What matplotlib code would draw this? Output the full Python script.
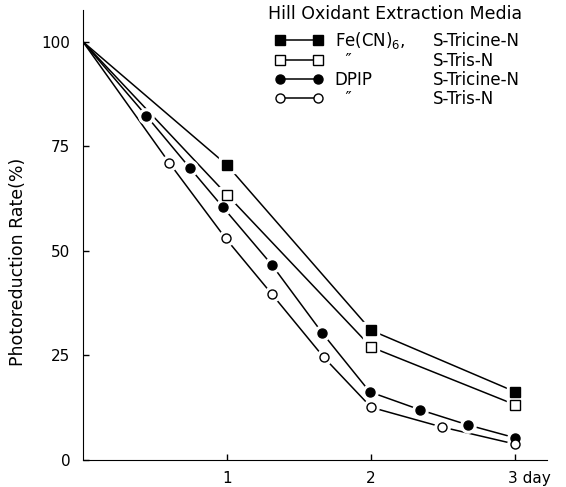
import numpy as np
import matplotlib.pyplot as plt
import matplotlib.transforms as mtransforms
from matplotlib.lines import Line2D

plt.rcParams.update({'font.family':'DejaVu Sans','font.size':11})

# values (day, % of initial rate)
fe_tricine_day=[0,1,2,3]
fe_tricine=[100,70.5,31,16.3]
fe_tris_day=[0,1,2,3]
fe_tris=[100,63.4,27,13.2]
dpip_tricine_day=[0,0.44,0.74,0.97,1.31,1.66,1.99,2.34,2.67,3.0]
dpip_tricine=[100,82.3,69.9,60.5,46.7,30.4,16.3,12,8.4,5.3]
dpip_tris_day=[0,0.6,0.99,1.31,1.67,2.0,2.49,3.0]
dpip_tris=[100,71,53,39.7,24.6,12.6,7.9,3.8]

oxidants=['Fe(CN)$_6$,','  \u2033','DPIP','  \u2033']
media=['S-Tricine-N','S-Tris-N','S-Tricine-N','S-Tris-N']
xticks=[1,2,3]
xticklabels=['1','2','3 day']
yticks=[0,25,50,75,100]

fig=plt.figure(figsize=(5.66,4.87),dpi=100)
ax=fig.add_axes([0.1466,0.0554,0.8198,0.9241])

series=[(fe_tricine_day,fe_tricine,'s','k'),
        (fe_tris_day,fe_tris,'s','w'),
        (dpip_tricine_day,dpip_tricine,'o','k'),
        (dpip_tris_day,dpip_tris,'o','w')]

handles=[]
for d,v,m,fc in series:
    ax.plot(d,v,color='k',lw=1.1,zorder=2)
    # white halo so the line stops short of each marker
    ax.plot(d,v,ls='none',marker=m,ms=11,mfc='w',mec='w',markevery=slice(1,None),zorder=3)
    ax.plot(d,v,ls='none',marker=m,ms=6.5,mfc=fc,mec='k',mew=1,markevery=slice(1,None),zorder=4)
    handles.append(Line2D([],[],color='k',lw=1.1,marker=m,ms=6.5,mfc=fc,mec='k'))

ax.set_xlim(0,3.22)
ax.set_ylim(0,107.6)
ax.spines['top'].set_visible(False)
ax.spines['right'].set_visible(False)
ax.set_xticks(xticks)
ax.set_xticklabels(xticklabels)
ax.set_yticks(yticks)
ax.tick_params(direction='in',length=4,width=1)
ax.tick_params(axis='x',pad=8)
ax.tick_params(axis='y',pad=9)
last=ax.get_xticklabels()[-1]
last.set_horizontalalignment('left')
last.set_transform(last.get_transform()+mtransforms.ScaledTranslation(-5/72,0,fig.dpi_scale_trans))

ax.set_ylabel('Photoreduction Rate(%)',fontsize=12.5)
ax.yaxis.set_label_coords(-0.121,0.44)

ax.text(0.399,0.99,'Hill Oxidant Extraction Media',transform=ax.transAxes,va='center',ha='left',fontsize=12.5)
leg=ax.legend(handles,oxidants,loc='upper left',bbox_to_anchor=(0.413,0.955),frameon=False,fontsize=12,
              numpoints=2,handlelength=2.9,handletextpad=0.7,labelspacing=0.05,borderpad=0,borderaxespad=0)

fig.canvas.draw()
inv=ax.transAxes.inverted()
for t,lab in zip(leg.get_texts(),media):
    yb=inv.transform(t.get_transform().transform((0,0)))[1]
    ax.text(0.754,yb,lab,transform=ax.transAxes,va='baseline',ha='left',fontsize=12)

plt.savefig('out.png',dpi=100)
